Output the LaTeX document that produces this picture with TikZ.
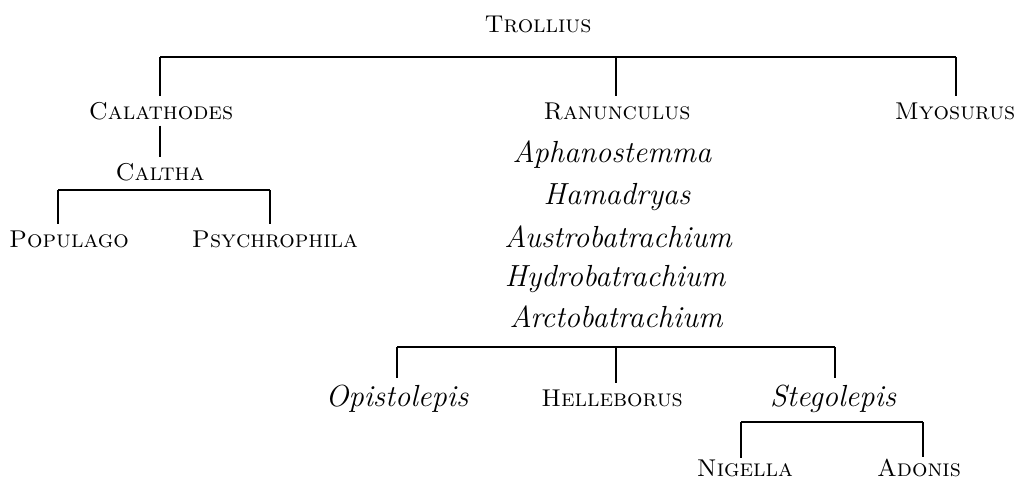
\documentclass[tikz,border=0pt]{standalone}
\usepackage{fontspec}
\begin{document}
\begin{tikzpicture}[x=1pt,y=-1pt,
  sc/.style={anchor=base,inner sep=6pt,font=\fontsize{24.3}{28}\selectfont\scshape},
  it/.style={anchor=base,inner sep=6pt,font=\fontsize{30.5}{34}\selectfont\itshape},
  low/.style={inner ysep=1.5pt},
  ln/.style={line width=1.1pt,line cap=butt}]
\useasboundingbox (0,0) rectangle (1016,479);
\fill[white] (0,0) rectangle (1016,479);
% nodes
\node[sc] (trollius) at (538,32) {Trollius};
\node[sc] (calathodes) at (161,119) {Calathodes};
\node[sc] (caltha) at (160,180) {Caltha};
\node[sc] (populago) at (69,247) {Populago};
\node[sc] (psychrophila) at (275,247) {Psychrophila};
\node[sc] (ranunculus) at (617,119) {Ranunculus};
\node[sc] (myosurus) at (955,119) {Myosurus};
\node[it] (aphanostemma) at (612,162) {Aphanostemma};
\node[it] (hamadryas) at (617,204) {Hamadryas};
\node[it] (austrobatrachium) at (618,247) {Austrobatrachium};
\node[it] (hydrobatrachium) at (615,286) {Hydrobatrachium};
\node[it] (arctobatrachium) at (616,327) {Arctobatrachium};
\node[it] (opistolepis) at (397,406) {Opistolepis};
\node[sc] (helleborus) at (612,406) {Helleborus};
\node[it] (stegolepis) at (833,406) {Stegolepis};
\node[sc,low] (nigella) at (745,476) {Nigella};
\node[sc,low] (adonis) at (919,476) {Adonis};
% bar coordinates
\coordinate (tL) at (160,57);
\coordinate (tM) at (616,57);
\coordinate (tR) at (956,57);
\coordinate (cL) at (58,190);
\coordinate (cR) at (270,190);
\coordinate (rL) at (397,347);
\coordinate (rM) at (616,347);
\coordinate (rR) at (835,347);
\coordinate (sL) at (741,422);
\coordinate (sR) at (923,422);
% connectors
\draw[ln] (tL) -- (tR);
\draw[ln] (tL) -- (tL |- calathodes.north);
\draw[ln] (tM) -- (tM |- ranunculus.north);
\draw[ln] (tR) -- (tR |- myosurus.north);
\draw[ln] (calathodes.south -| tL) -- (caltha.north -| tL);
\draw[ln] (cL) -- (cR);
\draw[ln] (cL) -- (cL |- populago.north);
\draw[ln] (cR) -- (cR |- psychrophila.north);
\draw[ln] (rL) -- (rR);
\draw[ln] (rL) -- (rL |- opistolepis.north);
\draw[ln] (rM) -- (rM |- helleborus.north);
\draw[ln] (rR) -- (rR |- stegolepis.north);
\draw[ln] (sL) -- (sR);
\draw[ln] (sL) -- (sL |- nigella.north);
\draw[ln] (sR) -- (sR |- adonis.north);
\end{tikzpicture}
\end{document}
